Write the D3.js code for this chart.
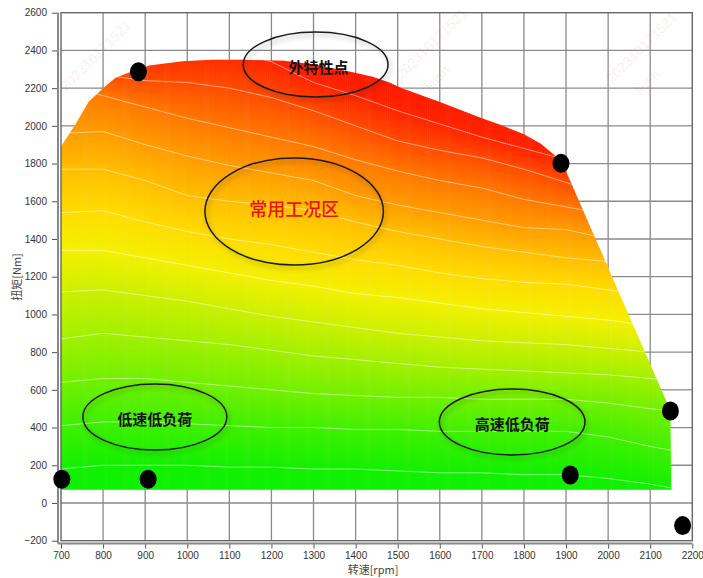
<!DOCTYPE html>
<html>
<head>
<meta charset="utf-8">
<script src="https://cdn.jsdelivr.net/npm/d3@7"></script>
<style>
body { margin: 0; background: #fff; }
svg { display: block; font-family: "Liberation Sans", Arial, sans-serif; }
</style>
</head>
<body>
<svg id="chart" width="703" height="578"></svg>
<script>
// axis ticks
const X_TICKS = [700, 800, 900, 1000, 1100, 1200, 1300, 1400, 1500, 1600, 1700, 1800, 1900, 2000, 2100, 2200];
const Y_TICKS = [-200, 0, 200, 400, 600, 800, 1000, 1200, 1400, 1600, 1800, 2000, 2200, 2400, 2600];

// outline of the coloured map (rpm, Nm)
const BOUNDARY_RPM = [700, 700, 735, 765, 800, 830, 865, 910, 990, 1060, 1130, 1230, 1300, 1390, 1440, 1480, 1510, 1600, 1700, 1750, 1800, 1840, 1870, 1890, 2148, 2150];
const BOUNDARY_TORQUE = [70, 1890, 2010, 2125, 2200, 2255, 2285, 2320, 2343, 2350, 2350, 2345, 2325, 2285, 2260, 2230, 2200, 2126, 2040, 2000, 1955, 1905, 1850, 1810, 490, 70];

// iso lines of the map, torque at each rpm column, top line first
const CONTOUR_RPM = [700, 800, 900, 1000, 1100, 1200, 1300, 1400, 1500, 1600, 1700, 1800, 1900, 2000, 2100, 2150];
const CONTOUR_LINES = [
	[2450, 2400, 2400, 2400, 2400, 2340, 2230, 2160, 2080, 2010, 1940, 1880, 1820, 1740, 1660, 1610],
	[2350, 2270, 2240, 2230, 2200, 2150, 2080, 2000, 1920, 1870, 1830, 1770, 1700, 1630, 1550, 1500],
	[2220, 2160, 2100, 2040, 1990, 1940, 1890, 1820, 1760, 1710, 1670, 1610, 1570, 1530, 1470, 1450],
	[1960, 1970, 1900, 1840, 1790, 1750, 1710, 1630, 1580, 1540, 1500, 1460, 1450, 1400, 1370, 1340],
	[1770, 1770, 1710, 1630, 1600, 1580, 1550, 1490, 1440, 1400, 1360, 1330, 1300, 1280, 1250, 1220],
	[1540, 1550, 1490, 1440, 1400, 1370, 1330, 1290, 1260, 1220, 1190, 1170, 1160, 1130, 1100, 1090],
	[1340, 1340, 1300, 1260, 1220, 1180, 1150, 1110, 1090, 1060, 1030, 1010, 990, 970, 940, 930],
	[1120, 1130, 1100, 1070, 1030, 990, 960, 930, 900, 880, 860, 850, 840, 820, 800, 790],
	[870, 900, 880, 860, 840, 810, 780, 760, 740, 720, 710, 700, 690, 680, 660, 650],
	[640, 660, 660, 640, 620, 600, 580, 570, 560, 560, 550, 550, 550, 530, 500, 490],
	[410, 430, 430, 420, 410, 400, 400, 390, 390, 380, 380, 380, 380, 350, 300, 280],
	[180, 200, 200, 200, 190, 190, 180, 180, 170, 160, 160, 150, 150, 130, 100, 80]
];
const CONTOUR_COLORS = ["#ff2400", "#ff4c00", "#ff7800", "#ff9c00", "#ffbe00", "#ffdc00", "#f4f000", "#ccf000", "#a2f000", "#72f000", "#40f000", "#12f000"];
const TOP_COLOR = "#ff0000";
const BOTTOM_COLOR = "#00f800";

// black marker points
const DOT_RPM = [702, 907, 884, 1888, 2148, 1910, 2177];
const DOT_TORQUE = [126, 126, 2287, 1801, 488, 148, -120];

// annotation ellipses
const NOTE_TEXT = ["外特性点", "常用工况区", "低速低负荷", "高速低负荷"];
const NOTE_RPM = [1305, 1254, 923, 1772];
const NOTE_TORQUE = [2325, 1546, 456, 429];
const NOTE_RX = [172, 212, 171, 173];
const NOTE_RY = [172, 284, 175, 175];

const svg = d3.select("#chart");
const x = d3.scaleLinear().domain([700, 2200]).range([61, 692.3]);
const y = d3.scaleLinear().domain([-200, 2600]).range([540.7, 12.7]);

const defs = svg.append("defs");

// faint watermark
const marks = [[66, 92], [402, 80], [612, 84], [96, 392], [442, 300]];
marks.forEach(([mx, my]) => {
	const g = svg.append("g")
		.attr("transform", `translate(${mx},${my}) rotate(-45)`)
		.style("fill", "rgba(225,120,120,0.15)")
		.style("font-size", "14px");
	g.append("text").text("202310171521");
	g.append("text").attr("x", 12).attr("y", 28).text("liusn");
});

// grid
svg.append("g")
	.selectAll("line")
	.data(X_TICKS.slice(1, -1))
	.join("line")
	.attr("x1", d => x(d)).attr("x2", d => x(d))
	.attr("y1", y(2600)).attr("y2", y(-200))
	.style("stroke", "#8a8a8a").style("stroke-width", 1.3);
svg.append("g")
	.selectAll("line")
	.data(Y_TICKS.slice(1, -1))
	.join("line")
	.attr("x1", x(700)).attr("x2", x(2200))
	.attr("y1", d => y(d)).attr("y2", d => y(d))
	.style("stroke", "#8a8a8a").style("stroke-width", 1.3);

// map outline used as clip
const outline = BOUNDARY_RPM.map((r, i) => [x(r), y(BOUNDARY_TORQUE[i])]);
defs.append("clipPath").attr("id", "map-clip")
	.append("path")
	.attr("d", d3.line()(outline) + "Z");

const lineScales = CONTOUR_LINES.map(vals => d3.scaleLinear().domain(CONTOUR_RPM).range(vals));

// the map: thin vertical strips, each with its own gradient between the iso lines
const STEP = 5;
const strips = d3.range(700, 2150, STEP);
const yTop = y(2600), yBottom = y(-200);
strips.forEach((r, i) => {
	const mid = Math.min(r + STEP / 2, 2150);
	const grad = defs.append("linearGradient")
		.attr("id", "g" + i)
		.attr("gradientUnits", "userSpaceOnUse")
		.attr("x1", 0).attr("x2", 0)
		.attr("y1", yTop).attr("y2", yBottom);
	grad.append("stop").attr("offset", 0).attr("stop-color", TOP_COLOR);
	lineScales.forEach((s, j) => {
		grad.append("stop")
			.attr("offset", (y(s(mid)) - yTop) / (yBottom - yTop))
			.attr("stop-color", CONTOUR_COLORS[j]);
	});
	grad.append("stop").attr("offset", 1).attr("stop-color", BOTTOM_COLOR);
});

const map = svg.append("g").attr("clip-path", "url(#map-clip)");
map.selectAll("rect")
	.data(strips)
	.join("rect")
	.attr("x", d => x(d))
	.attr("width", d => x(d + STEP) - x(d) + 0.6)
	.attr("y", yTop)
	.attr("height", yBottom - yTop)
	.attr("fill", (d, i) => `url(#g${i})`);

map.selectAll("path")
	.data(CONTOUR_LINES)
	.join("path")
	.attr("d", vals => d3.line()(vals.map((v, i) => [x(CONTOUR_RPM[i]), y(v)])))
	.style("fill", "none")
	.style("stroke", "rgba(255,255,255,0.5)")
	.style("stroke-width", 1);

// frame
svg.append("rect")
	.attr("x", x(700)).attr("y", y(2600))
	.attr("width", x(2200) - x(700)).attr("height", y(-200) - y(2600))
	.style("fill", "none").style("stroke", "#666").style("stroke-width", 1.4);

// axes
const yAxis = svg.append("g")
	.attr("transform", "translate(58,0)")
	.call(d3.axisLeft(y).tickValues(Y_TICKS).tickFormat(d3.format("d")).tickSize(6).tickPadding(5));
const xAxis = svg.append("g")
	.attr("transform", "translate(0,543.5)")
	.call(d3.axisBottom(x).tickValues(X_TICKS).tickFormat(d3.format("d")).tickSize(5).tickPadding(3));
[yAxis, xAxis].forEach(a => {
	a.select(".domain").remove();
	a.selectAll(".tick line").style("stroke", "#555");
	a.selectAll(".tick text")
		.style("fill", "#333")
		.style("font-size", "10px")
		.style("font-family", "'Liberation Sans', Arial, sans-serif");
});
svg.append("line")
	.attr("x1", 58).attr("x2", 58).attr("y1", y(2600)).attr("y2", 543.5)
	.style("stroke", "#888").style("stroke-width", 2);
svg.append("line")
	.attr("x1", 58).attr("x2", x(2200)).attr("y1", 543.5).attr("y2", 543.5)
	.style("stroke", "#888").style("stroke-width", 2);

svg.append("text")
	.attr("x", 373).attr("y", 574)
	.attr("text-anchor", "middle")
	.style("font-family", "'Noto Sans CJK SC', sans-serif")
	.style("font-size", "11px").style("fill", "#444")
	.text("转速[rpm]");
svg.append("text")
	.attr("transform", "translate(21,277) rotate(-90)")
	.attr("text-anchor", "middle")
	.style("font-family", "'Noto Sans CJK SC', sans-serif")
	.style("font-size", "11px").style("fill", "#444")
	.text("扭矩[Nm]");

// marker points
svg.append("g")
	.selectAll("ellipse")
	.data(DOT_RPM)
	.join("ellipse")
	.attr("cx", d => x(d))
	.attr("cy", (d, i) => y(DOT_TORQUE[i]))
	.attr("rx", 8.5).attr("ry", 9.5)
	.style("fill", "#000");

// annotations
const shadow = defs.append("filter").attr("id", "shadow")
	.attr("x", "-20%").attr("y", "-20%").attr("width", "140%").attr("height", "150%");
shadow.append("feDropShadow")
	.attr("dx", 2).attr("dy", 3).attr("stdDeviation", 2.5)
	.attr("flood-color", "#000").attr("flood-opacity", 0.3);

const notes = svg.append("g");
notes.selectAll("ellipse")
	.data(NOTE_TEXT)
	.join("ellipse")
	.attr("cx", (d, i) => x(NOTE_RPM[i]))
	.attr("cy", (d, i) => y(NOTE_TORQUE[i]))
	.attr("rx", (d, i) => x(700 + NOTE_RX[i]) - x(700))
	.attr("ry", (d, i) => y(0) - y(NOTE_RY[i]))
	.attr("filter", "url(#shadow)")
	.style("fill", "none")
	.style("stroke", "#1a1a1a")
	.style("stroke-width", 1.5);
notes.selectAll("text")
	.data(NOTE_TEXT)
	.join("text")
	.attr("x", (d, i) => x(NOTE_RPM[i]) + (i === 0 ? 3 : 0))
	.attr("y", (d, i) => y(NOTE_TORQUE[i]) + (i === 1 ? 0 : 4))
	.attr("text-anchor", "middle")
	.attr("dominant-baseline", "middle")
	.style("font-family", "'Noto Sans CJK SC', sans-serif")
	.style("font-size", (d, i) => i === 1 ? "18px" : "15px")
	.style("font-weight", (d, i) => i === 1 ? 500 : 700)
	.style("fill", (d, i) => i === 1 ? "#ee1111" : "#111")
	.text(d => d);
</script>
</body>
</html>
